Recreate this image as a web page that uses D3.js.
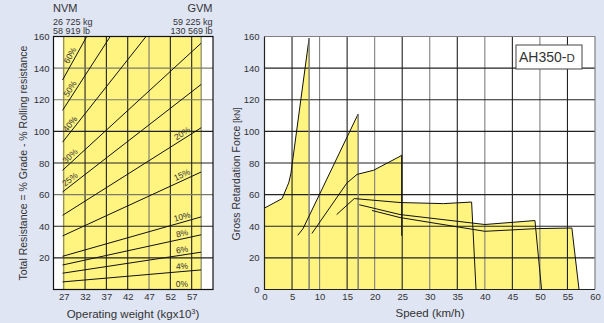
<!DOCTYPE html>
<html lang="en">
<head>
<meta charset="UTF-8">
<title>AH350-D retarder chart</title>
<script src="https://d3js.org/d3.v7.min.js"></script>
<style>
  body { margin: 0; background: #dfe5f3; }
  svg { display: block; font-family: "Liberation Sans", Arial, sans-serif; }
</style>
</head>
<body>
<script>
    // ---- left chart: total resistance vs operating weight ----
    var weightTicks = [27, 32, 37, 42, 47, 52, 57];
    var resistTicks = [0, 20, 40, 60, 80, 100, 120, 140, 160];
    var nvm = 26.725, gvm = 59.225;
    var grades = [0, 4, 6, 8, 10, 15, 20, 25, 30, 40, 50, 60];
    var gradeStart = [0, 4.8, 10.3, 15.5, 21, 33.9, 46.9, 61.7, 75.4, 93.2, 113.3, 132.5];
    var gradeEndWeight = [59.225, 59.225, 59.225, 59.225, 59.225, 59.225, 59.225, 59.225, 59.225, 46.3, 37.9, 32.4];
    var gradeEnd = [0, 12.4, 23.6, 34.6, 45.9, 74.3, 102.3, 129.7, 155.8, 160, 160, 160];

    // ---- right chart: retardation force vs speed, one polyline per gear ----
    var speedTicks = [0, 5, 10, 15, 20, 25, 30, 35, 40, 45, 50, 55, 60];
    var forceTicks = [0, 20, 40, 60, 80, 100, 120, 140, 160];
    var gear1 = [[0, 51.5], [3.2, 57.5], [4.1, 65], [4.4, 67.5], [4.8, 73.5], [8.1, 159], [8.1, 0]];
    var gear2 = [[6.05, 34.3], [7, 38.5], [17, 111], [17, 0]];
    var gear3 = [[8.6, 35.4], [14.95, 67.3], [16.8, 72.8], [19.8, 75.4], [24.6, 84.2], [24.9, 85], [24.9, 34]];
    var gear4 = [[13.1, 47.4], [16.3, 57.5], [24.6, 55], [32.5, 54.3], [37.6, 55.3], [38.4, 0]];
    var gear5 = [[17.2, 53.6], [24.6, 47.4], [40, 41.1], [49.1, 43.6], [50.3, 0]];
    var gear6 = [[19.5, 50], [24.6, 45.5], [40, 36.8], [49.4, 38.5], [55.8, 38.9], [57.1, 0]];
    var gears = [gear1, gear2, gear3, gear4, gear5, gear6];

    var yellow = "#fff480";
    var svg = d3.select("body").append("svg")
        .attr("width", 604)
        .attr("height", 323);

    // ================= LEFT =================
    var xW = d3.scaleLinear().domain([24.6, 62]).range([53.5, 213]);
    var yR = d3.scaleLinear().domain([0, 160]).range([289.5, 36.5]);

    var left = svg.append("g");
    left.append("rect")
        .attr("x", xW.range()[0]).attr("y", yR(160))
        .attr("width", xW.range()[1] - xW.range()[0])
        .attr("height", yR(0) - yR(160))
        .attr("fill", "#fff");
    left.append("rect")
        .attr("x", xW(nvm)).attr("y", yR(160))
        .attr("width", xW(gvm) - xW(nvm))
        .attr("height", yR(0) - yR(160))
        .attr("fill", yellow);

    var wGray = [27, 47];
    left.selectAll("line.vg")
        .data(weightTicks.concat([gvm]))
        .enter().append("line")
        .attr("x1", function (d) { return xW(d); })
        .attr("x2", function (d) { return xW(d); })
        .attr("y1", yR(0)).attr("y2", yR(160))
        .attr("stroke", function (d) { return (wGray.indexOf(d) >= 0 || d === gvm) ? "#7a7a6a" : "#222"; })
        .attr("stroke-width", 1.1);

    var rGray = [60, 120, 140];
    left.selectAll("line.hg")
        .data(resistTicks.slice(1, -1))
        .enter().append("line")
        .attr("x1", xW.range()[0]).attr("x2", xW.range()[1])
        .attr("y1", function (d) { return yR(d); })
        .attr("y2", function (d) { return yR(d); })
        .attr("stroke", function (d) { return rGray.indexOf(d) >= 0 ? "#7a7a6a" : "#222"; })
        .attr("stroke-width", 1.1);

    // grade lines
    grades.forEach(function (g, i) {
        var x1 = xW(nvm), y1 = yR(gradeStart[i]);
        var x2 = xW(gradeEndWeight[i]), y2 = yR(gradeEnd[i]);
        if (g > 0) {
            left.append("line")
                .attr("x1", x1).attr("y1", y1).attr("x2", x2).attr("y2", y2)
                .attr("stroke", "#111").attr("stroke-width", 1);
        }
        var a = Math.atan2(y2 - y1, x2 - x1);
        var nx = Math.sin(a) * 5.5, ny = -Math.cos(a) * 5.5;
        var lx = g >= 25 ? 70 : 182;
        var px = lx - nx;
        var t = (px - x1) / (x2 - x1);
        var py = y1 + t * (y2 - y1);
        left.append("text")
            .attr("transform", "translate(" + (px + nx) + "," + (py + ny) + ") rotate(" + (a * 180 / Math.PI) + ")")
            .attr("text-anchor", "middle")
            .attr("dominant-baseline", "central")
            .attr("font-size", "8.5px")
            .attr("fill", "#333")
            .text(g + "%");
    });

    left.append("rect")
        .attr("x", xW.range()[0]).attr("y", yR(160))
        .attr("width", xW.range()[1] - xW.range()[0])
        .attr("height", yR(0) - yR(160))
        .attr("fill", "none").attr("stroke", "#111").attr("stroke-width", 1.2);

    var lAxisY = left.append("g")
        .attr("transform", "translate(" + xW.range()[0] + ",0)")
        .call(d3.axisLeft(yR).tickValues(resistTicks.slice(1)).tickSize(0).tickPadding(4));
    var lAxisX = left.append("g")
        .attr("transform", "translate(0," + yR(0) + ")")
        .call(d3.axisBottom(xW).tickValues(weightTicks).tickSize(0).tickPadding(4));
    [lAxisY, lAxisX].forEach(function (ax) {
        ax.select(".domain").remove();
        ax.selectAll("text").attr("font-size", "9.5px").attr("fill", "#333")
            .attr("font-family", "Liberation Sans, Arial, sans-serif");
    });

    left.append("text")
        .attr("transform", "translate(27," + ((yR(0) + yR(160)) / 2) + ") rotate(-90)")
        .attr("text-anchor", "middle")
        .attr("font-size", "10.5px").attr("fill", "#333")
        .text("Total Resistance = % Grade - % Rolling resistance");
    var xl = left.append("text")
        .attr("x", 133).attr("y", 318)
        .attr("text-anchor", "middle")
        .attr("font-size", "11.5px").attr("fill", "#333");
    xl.append("tspan").text("Operating weight (kgx10");
    xl.append("tspan").attr("font-size", "7.5px").attr("dy", -4).text("3");
    xl.append("tspan").attr("dy", 4).text(")");

    // NVM / GVM header
    var head = left.append("g").attr("fill", "#333");
    head.append("text").attr("x", 53).attr("y", 12).attr("font-size", "11px").text("NVM");
    head.append("text").attr("x", 53).attr("y", 24.5).attr("font-size", "9px").text("26 725 kg");
    head.append("text").attr("x", 53).attr("y", 33.5).attr("font-size", "9px").text("58 919 lb");
    head.append("text").attr("x", 212.5).attr("y", 12).attr("text-anchor", "end").attr("font-size", "11px").text("GVM");
    head.append("text").attr("x", 212.5).attr("y", 24.5).attr("text-anchor", "end").attr("font-size", "9px").text("59 225 kg");
    head.append("text").attr("x", 212.5).attr("y", 33.5).attr("text-anchor", "end").attr("font-size", "9px").text("130 569 lb");

    // ================= RIGHT =================
    var xS = d3.scaleLinear().domain([0, 60]).range([264.5, 595]);
    var yF = d3.scaleLinear().domain([0, 160]).range([289.5, 36.5]);
    var right = svg.append("g");

    right.append("rect")
        .attr("x", xS(0)).attr("y", yF(160))
        .attr("width", xS(60) - xS(0)).attr("height", yF(0) - yF(160))
        .attr("fill", "#fff");

    var area = d3.line()
        .x(function (d) { return xS(d[0]); })
        .y(function (d) { return yF(d[1]); });

    right.selectAll("path.fill")
        .data(gears)
        .enter().append("path")
        .attr("d", function (d) {
            var last = d[d.length - 1];
            return area(d.concat([[last[0], 0], [d[0][0], 0]])) + "Z";
        })
        .attr("fill", yellow)
        .attr("stroke", "none");

    right.selectAll("line.vg")
        .data(speedTicks.slice(1, -1))
        .enter().append("line")
        .attr("x1", function (d) { return xS(d); })
        .attr("x2", function (d) { return xS(d); })
        .attr("y1", yF(0)).attr("y2", yF(160))
        .attr("stroke", function (d) { return d % 10 === 0 ? "#808080" : "#222"; })
        .attr("stroke-width", 1.1);
    right.selectAll("line.hg")
        .data(forceTicks.slice(1, -1))
        .enter().append("line")
        .attr("x1", xS(0)).attr("x2", xS(60))
        .attr("y1", function (d) { return yF(d); })
        .attr("y2", function (d) { return yF(d); })
        .attr("stroke", "#222")
        .attr("stroke-width", 1.1);

    // top & right border grey, axes dark
    right.append("path")
        .attr("d", "M" + xS(0) + "," + yF(160) + "H" + xS(60) + "V" + yF(0))
        .attr("fill", "none").attr("stroke", "#808080").attr("stroke-width", 1.2);
    right.append("path")
        .attr("d", "M" + xS(0) + "," + yF(160) + "V" + yF(0) + "H" + xS(60))
        .attr("fill", "none").attr("stroke", "#222").attr("stroke-width", 1.2);

    // gear curves; first two gears drop with a grey edge
    gears.forEach(function (g, i) {
        var grayDrop = i < 2;
        var top = grayDrop ? g.slice(0, -1) : g;
        right.append("path")
            .attr("d", area(top))
            .attr("fill", "none").attr("stroke", "#111").attr("stroke-width", 1);
        if (grayDrop) {
            right.append("path")
                .attr("d", area(g.slice(-2)))
                .attr("fill", "none").attr("stroke", "#777").attr("stroke-width", 1.4);
        }
    });

    var rAxisY = right.append("g")
        .attr("transform", "translate(" + xS(0) + ",0)")
        .call(d3.axisLeft(yF).tickValues(forceTicks).tickSize(0).tickPadding(5));
    var rAxisX = right.append("g")
        .attr("transform", "translate(0," + yF(0) + ")")
        .call(d3.axisBottom(xS).tickValues(speedTicks).tickSize(0).tickPadding(4));
    [rAxisY, rAxisX].forEach(function (ax) {
        ax.select(".domain").remove();
        ax.selectAll("text").attr("font-size", "9.5px").attr("fill", "#333")
            .attr("font-family", "Liberation Sans, Arial, sans-serif");
    });

    var yl = right.append("text")
        .attr("transform", "translate(240,174) rotate(-90)")
        .attr("text-anchor", "middle")
        .attr("font-size", "10.5px").attr("fill", "#333");
    yl.append("tspan").text("Gross Retardation Force ");
    yl.append("tspan").attr("font-size", "8.5px").text("[kN]");

    right.append("text")
        .attr("x", 430).attr("y", 317)
        .attr("text-anchor", "middle")
        .attr("font-size", "11.5px").attr("fill", "#333")
        .text("Speed (km/h)");

    // model box
    right.append("rect")
        .attr("x", 516).attr("y", 45).attr("width", 66).attr("height", 24)
        .attr("fill", "#fff").attr("stroke", "#444").attr("stroke-width", 1);
    var mb = right.append("text")
        .attr("x", 519).attr("y", 61.5)
        .attr("font-size", "14px").attr("fill", "#333");
    mb.append("tspan").text("AH350-");
    mb.append("tspan").attr("font-size", "11.5px").text("D");
</script>
</body>
</html>
